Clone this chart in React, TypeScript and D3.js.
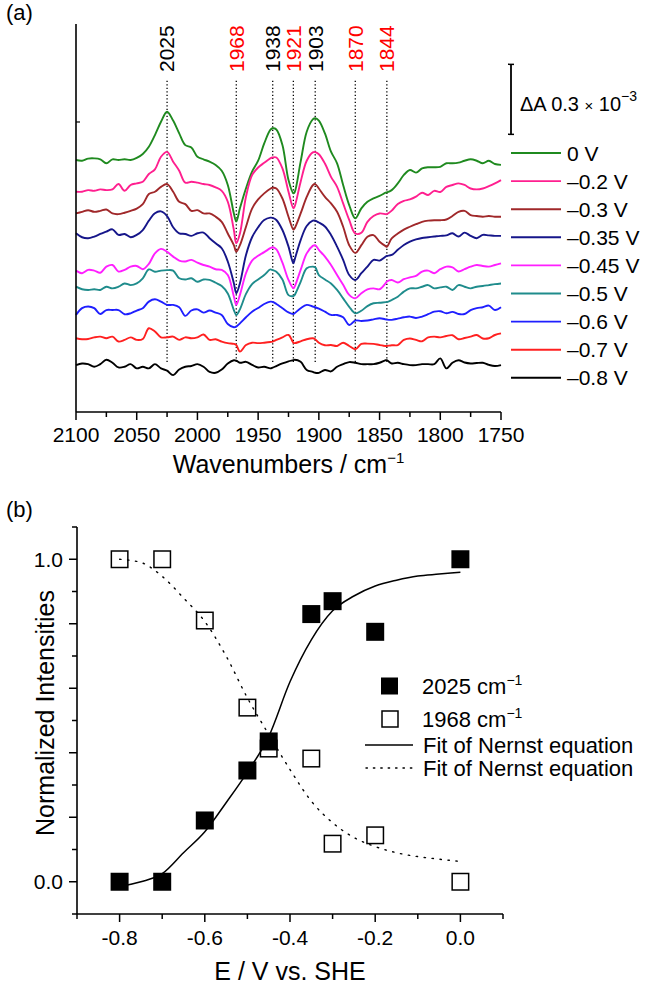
import React from 'react';
import * as d3 from 'd3';

// ---- (a) IR difference spectra ----
const wavenumbers = [
  2100, 2095, 2090, 2085, 2080, 2075, 2070, 2065, 2060, 2055, 2050, 2045, 2040, 2035, 2030, 2025,
  2020, 2015, 2010, 2005, 2000, 1995, 1990, 1985, 1980, 1975, 1970, 1968, 1965, 1960, 1955, 1950,
  1945, 1940, 1938, 1935, 1930, 1925, 1921, 1920, 1915, 1910, 1905, 1903, 1900, 1895, 1890, 1885,
  1880, 1875, 1870, 1865, 1860, 1855, 1850, 1845, 1844, 1840, 1835, 1830, 1825, 1820, 1815, 1810,
  1805, 1800, 1795, 1790, 1785, 1780, 1775, 1770, 1765, 1760, 1755, 1750,
];

const potentials = ['0 V', '\u20130.2 V', '\u20130.3 V', '\u20130.35 V', '\u20130.45 V', '\u20130.5 V', '\u20130.6 V', '\u20130.7 V', '\u20130.8 V'];
const traceColors = ['#1f8a1f', '#ff1f8f', '#a0282a', '#16168a', '#ff1fff', '#1f8c8c', '#1f1fff', '#ff2020', '#000000'];
// stacking offsets, dA x 10^-4
const traceOffsets = [10.8, 9.44, 8.51, 7.66, 6.06, 5.37, 4.16, 3.16, 2.01];

const spec0 = [
  0, -0.03, 0.06, 0.07, 0.03, -0.14, 0.03, 0, 0.03, 0, 0.09, 0.26, 0.57, 1.07, 1.64, 2.07,
  1.69, 1.14, 0.64, 0.54, 0.14, 0.03, -0.07, -0.21, -0.46, -1.07, -2.29, -2.64, -2.07, -1.21, -0.5, -0.03,
  0.71, 1.29, 1.36, 1.31, 0.64, -0.86, -1.43, -1.39, -0.07, 1.21, 1.74, 1.79, 1.69, 1.14, 0.36, -0.14,
  -1.07, -1.93, -2.5, -2.07, -1.79, -1.64, -1.54, -1.4, -1.39, -1.29, -1.0, -0.64, -0.43, -0.54, -0.36, -0.31,
  -0.31, -0.29, -0.14, -0.14, -0.11, -0.03, 0.03, -0.03, -0.14, -0.03, -0.17, -0.21,
];
const spec02 = [
  0, 0, 0.07, 0.04, 0.1, 0.07, 0.1, 0.33, 0.04, 0.29, 0.36, 0.43, 0.76, 0.96, 1.5, 1.71,
  1.29, 0.9, 0.39, 0.43, 0.39, 0.33, 0.29, 0.19, 0.04, -0.43, -1.64, -2.21, -1.79, -0.21, 0.71, 1.04,
  1.24, 1.43, 1.47, 1.47, 1.0, 0, -0.71, -0.64, 0.43, 1.33, 1.69, 1.7, 1.61, 1.21, 0.64, 0.21,
  -0.5, -1.21, -1.79, -1.76, -1.29, -1.04, -0.93, -0.96, -0.96, -0.81, -0.53, -0.39, -0.33, -0.21, -0.04, -0.14,
  0.04, -0.01, 0.21, 0.29, 0.36, 0.29, 0.14, 0.1, 0.14, 0.24, 0.36, 0.5,
];
const spec03 = [
  0, 0.07, 0.14, 0.07, 0.11, 0.17, 0, -0.03, 0.03, 0.11, 0.21, 0.4, 0.83, 0.93, 1.14, 1.26,
  0.93, 0.5, 0.4, 0.11, 0.14, 0, 0, -0.14, -0.36, -0.86, -1.36, -1.64, -1.36, -0.57, 0.21, 0.6,
  0.86, 1.06, 1.1, 1.07, 0.64, -0.14, -0.69, -0.64, 0, 0.71, 1.21, 1.26, 1.07, 0.71, 0.43, 0.07,
  -0.57, -1.36, -1.69, -1.36, -1.0, -0.93, -1.21, -1.4, -1.43, -1.07, -0.86, -0.69, -0.57, -0.46, -0.36, -0.31,
  -0.29, -0.29, -0.26, -0.11, 0.07, 0.11, -0.07, -0.11, -0.14, -0.11, -0.14, -0.14,
];
const spec035 = [
  0, -0.17, -0.21, -0.14, -0.03, 0.07, 0.17, -0.07, -0.03, -0.17, -0.07, 0.14, 0.54, 0.86, 0.94, 0.74,
  0.26, 0, -0.03, -0.11, 0, 0.03, -0.21, -0.43, -0.64, -1.21, -2.14, -2.57, -2.14, -0.93, -0.17, 0.26,
  0.57, 0.67, 0.66, 0.57, 0.14, -0.57, -1.29, -1.14, -0.29, 0.31, 0.54, 0.54, 0.46, 0.29, -0.07, -0.57,
  -1.14, -1.79, -2.0, -1.71, -1.43, -1.14, -1.17, -1.0, -0.97, -0.93, -0.71, -0.5, -0.36, -0.26, -0.2, -0.17,
  -0.14, -0.11, -0.09, 0, -0.14, 0.03, -0.11, -0.21, -0.07, -0.09, -0.11, -0.11,
];
const spec045 = [
  0, -0.11, 0.03, 0, -0.09, 0.17, 0.24, -0.04, 0.03, 0.17, 0.2, 0.06, 0.29, 0.74, 0.93, 0.81,
  0.6, 0.43, 0.39, 0.46, 0.34, 0.24, 0.17, 0.06, 0.03, -0.19, -1.11, -1.47, -1.04, -0.11, 0.43, 0.64,
  0.79, 0.96, 1.0, 0.91, 0.34, -0.4, -0.76, -0.69, 0.03, 0.74, 1.06, 1.09, 0.89, 0.6, 0.24, -0.19,
  -0.61, -1.04, -1.19, -0.97, -0.8, -0.76, -0.8, -0.54, -0.47, -0.4, -0.51, -0.37, -0.29, -0.23, -0.04, 0,
  -0.11, 0.06, 0.17, 0.14, -0.04, 0.06, 0.17, 0.24, 0.2, 0.17, 0.24, 0.31,
];
const spec05 = [
  0, -0.11, -0.14, -0.11, -0.14, 0, -0.07, 0, 0.14, 0.07, 0.14, 0.36, 0.74, 0.64, 0.69, 0.71,
  0.69, 0.36, 0.31, 0.36, 0.21, 0.31, 0.29, 0.17, 0.03, -0.29, -1.0, -1.21, -0.97, -0.31, 0.11, 0.31,
  0.5, 0.74, 0.71, 0.64, 0.31, -0.36, -0.4, -0.36, 0.21, 0.79, 0.86, 0.83, 0.5, 0.31, 0.14, -0.14,
  -0.5, -0.86, -1.14, -1.03, -0.83, -0.71, -0.69, -0.66, -0.66, -0.57, -0.43, -0.21, -0.07, -0.07, 0, 0.07,
  -0.07, -0.03, 0, -0.14, 0.07, 0, -0.07, 0, 0.03, 0.07, 0.11, 0.14,
];
const spec06 = [
  0, 0.29, 0.36, 0.29, 0.04, 0.21, 0.21, 0.21, 0.03, 0.07, 0.19, 0.29, 0.57, 0.67, 0.57, 0.43,
  0.43, 0.33, -0.04, 0.19, 0.24, 0.1, 0.19, 0.1, 0, -0.39, -0.53, -0.5, -0.36, -0.1, 0.14, 0.3,
  0.47, 0.57, 0.56, 0.47, 0.29, 0.11, 0.04, 0.07, 0.29, 0.43, 0.36, 0.33, 0.27, 0.14, 0, 0,
  -0.1, -0.43, -0.24, -0.26, -0.24, -0.19, -0.14, -0.19, -0.2, -0.21, -0.16, -0.1, -0.07, -0.13, -0.07, 0.03,
  0.14, 0.16, 0.07, 0.13, 0.04, 0.04, 0.21, 0.29, 0.33, 0.4, 0.21, 0.33,
];
const spec07 = [
  0, -0.04, -0.03, 0.04, 0.07, 0, 0.07, -0.14, -0.07, 0.04, -0.07, -0.03, 0.43, 0.29, 0.04, 0.04,
  0.07, -0.07, 0.04, 0, 0.04, 0.16, -0.07, -0.04, -0.14, -0.21, -0.24, -0.29, -0.57, -0.29, -0.19, -0.21,
  -0.19, -0.16, -0.14, -0.07, 0.04, 0.14, -0.19, -0.21, -0.13, -0.04, 0, -0.04, -0.19, -0.3, -0.29, -0.33,
  -0.19, -0.33, -0.47, -0.24, -0.23, -0.24, -0.29, -0.33, -0.33, -0.3, -0.29, -0.07, -0.01, -0.07, -0.13, 0.04,
  0.07, 0.04, 0.1, 0.13, -0.04, 0.01, 0.07, 0.14, -0.01, 0, 0.14, 0.21,
];
const spec08 = [
  0, 0.07, 0.04, -0.07, 0.04, 0.23, 0.1, -0.1, -0.07, 0.04, -0.14, -0.07, -0.14, 0.04, -0.14, -0.24,
  -0.43, -0.19, -0.07, -0.04, 0.04, -0.07, -0.29, -0.33, -0.19, 0.07, 0.21, 0.19, 0.1, 0.14, 0.01, -0.1,
  -0.07, -0.14, -0.11, -0.04, 0.07, 0.16, 0.21, 0.23, 0.14, -0.21, -0.29, -0.33, -0.33, -0.21, -0.27, -0.07,
  0.04, 0.13, 0.1, 0.04, 0.04, 0.04, 0.1, 0.21, 0.21, 0.07, 0.1, 0.04, 0, 0, 0.04, 0.04,
  0.04, 0.29, -0.14, 0.1, 0.21, 0.11, 0.07, 0.09, 0.1, 0.01, -0.04, 0,
];
const spectra = [spec0, spec02, spec03, spec035, spec045, spec05, spec06, spec07, spec08];

const peakPositions = [2025, 1968, 1938, 1921, 1903, 1870, 1844];
const peakColors = ['#000', '#ff0000', '#000', '#ff0000', '#000', '#ff0000', '#ff0000'];
const wnTicks = [2100, 2050, 2000, 1950, 1900, 1850, 1800, 1750];
const wnMinorTicks = [2075, 2025, 1975, 1925, 1875, 1825, 1775];

// ---- (b) normalized intensities ----
const potentialE = [-0.8, -0.7, -0.6, -0.5, -0.45, -0.35, -0.3, -0.2, 0.0];
const intensity2025 = [0.0, 0.0, 0.19, 0.345, 0.435, 0.83, 0.87, 0.775, 1.0];
const intensity1968 = [1.0, 1.0, 0.81, 0.54, 0.413, 0.382, 0.118, 0.144, 0.0];
const fitE = [-0.8, -0.75, -0.7, -0.65, -0.6, -0.55, -0.5, -0.45, -0.4, -0.35, -0.3, -0.25, -0.2, -0.15, -0.1, -0.05, 0.0];
const fit2025 = [-0.015, 0.0, 0.025, 0.09, 0.155, 0.245, 0.34, 0.45, 0.62, 0.75, 0.84, 0.886, 0.917, 0.935, 0.948, 0.954, 0.96];
const fit1968 = [1.0, 0.99, 0.947, 0.88, 0.807, 0.7, 0.57, 0.457, 0.348, 0.25, 0.183, 0.137, 0.109, 0.09, 0.078, 0.07, 0.063];
const eTicks = [-0.9, -0.8, -0.7, -0.6, -0.5, -0.4, -0.3, -0.2, -0.1, 0.0, 0.1];
const eLabels = [-0.8, -0.6, -0.4, -0.2, 0.0];
const iTicks = [-0.1, 0.0, 0.1, 0.2, 0.3, 0.4, 0.5, 0.6, 0.7, 0.8, 0.9, 1.0, 1.1];
const iLabels = [0.0, 1.0];

const FONT = 'Liberation Sans, Arial, Helvetica, sans-serif';

const fmt = (v: number) => {
  const s = v.toFixed(1);
  return s === '-0.0' ? '0.0' : s;
};

const App = () => {
  // panel (a)
  const ax = d3.scaleLinear().domain([2100, 1750]).range([76, 501]);
  const ay = d3.scaleLinear().domain([0, 16.63]).range([412, 24]);
  const traceLine = d3
    .line<number>()
    .x((_, i) => ax(wavenumbers[i]))
    .y((d) => d)
    .curve(d3.curveCatmullRom.alpha(0.5));

  const guideTop = 14.2;
  const guideBottom = 2.05;
  const barBase = 11.9;
  const barSize = 3; // 0.3 x 10^-3

  // panel (b)
  const bx = d3.scaleLinear().domain([-0.9, 0.1]).range([77, 503]);
  const by = d3.scaleLinear().domain([-0.1, 1.1]).range([914, 527]);
  const fitLine = (vals: number[]) =>
    d3
      .line<number>()
      .x((_, i) => bx(fitE[i]))
      .y((d) => by(d))
      .curve(d3.curveMonotoneX)(vals) || '';

  const legendY0 = 153;
  const legendStep = 28.1;
  const m = 18;

  return (
    <svg
      width={647}
      height={984}
      style={{ position: 'absolute', left: 0, top: 0, background: '#fff' }}
      fontFamily={FONT}
    >
      <rect x={0} y={0} width={647} height={984} fill="#fff" />
      <text x={6} y={20} fontSize={22}>(a)</text>
      <text x={6} y={517} fontSize={22}>(b)</text>

      {/* ----- panel (a) ----- */}
      {peakPositions.map((p) => (
        <line
          key={'g' + p}
          x1={ax(p)}
          x2={ax(p)}
          y1={ay(guideTop)}
          y2={ay(guideBottom)}
          stroke="#000"
          strokeWidth={1.3}
          strokeDasharray="1.3,2.2"
        />
      ))}
      {peakPositions.map((p, i) => (
        <text
          key={'pl' + p}
          transform={`translate(${ax(p)},72) rotate(-90)`}
          dy="0.35em"
          fontSize={21}
          fill={peakColors[i]}
        >
          {p}
        </text>
      ))}

      {spectra.map((s, k) => (
        <path
          key={'s' + k}
          d={traceLine(s.map((v) => ay(traceOffsets[k] + v))) || ''}
          fill="none"
          stroke={traceColors[k]}
          strokeWidth={1.9}
          strokeLinejoin="round"
        />
      ))}

      {/* axes (a) */}
      <line x1={ax(2100)} x2={ax(2100)} y1={ay(16.63)} y2={ay(0)} stroke="#000" strokeWidth={1.6} />
      <line x1={ax(2100)} x2={ax(2100) + 4} y1={ay(12.43)} y2={ay(12.43)} stroke="#000" strokeWidth={1.2} />
      <line x1={ax(2100)} x2={ax(1750)} y1={ay(0)} y2={ay(0)} stroke="#000" strokeWidth={1.6} />
      {wnTicks.map((t) => (
        <g key={'t' + t}>
          <line x1={ax(t)} x2={ax(t)} y1={ay(0)} y2={ay(0) + 8} stroke="#000" strokeWidth={1.5} />
          <text x={ax(t)} y={442} fontSize={21} textAnchor="middle">{t}</text>
        </g>
      ))}
      {wnMinorTicks.map((t) => (
        <line key={'mt' + t} x1={ax(t)} x2={ax(t)} y1={ay(0)} y2={ay(0) + 5} stroke="#000" strokeWidth={1.5} />
      ))}
      <text x={(ax(2100) + ax(1750)) / 2} y={473} fontSize={25} textAnchor="middle">
        Wavenumbers / cm
        <tspan dy={-10} fontSize={15}>{'\u22121'}</tspan>
      </text>

      {/* scale bar */}
      <line x1={511} x2={511} y1={ay(barBase)} y2={ay(barBase + barSize)} stroke="#000" strokeWidth={1.8} />
      <line x1={508} x2={514} y1={ay(barBase + barSize)} y2={ay(barBase + barSize)} stroke="#000" strokeWidth={1.5} />
      <line x1={508} x2={514} y1={ay(barBase)} y2={ay(barBase)} stroke="#000" strokeWidth={1.5} />
      <text x={520} y={111} fontSize={20}>
        {'\u0394A 0.3 '}
        <tspan fontSize={15}>{'\u00d7'}</tspan>
        {' 10'}
        <tspan dy={-10} fontSize={14}>{'\u22123'}</tspan>
      </text>

      {/* legend (a) */}
      {potentials.map((p, k) => (
        <g key={'lg' + k}>
          <line
            x1={511}
            x2={561}
            y1={legendY0 + k * legendStep}
            y2={legendY0 + k * legendStep}
            stroke={traceColors[k]}
            strokeWidth={1.9}
          />
          <text x={567} y={legendY0 + k * legendStep} dy="0.36em" fontSize={21}>
            {p}
          </text>
        </g>
      ))}

      {/* ----- panel (b) ----- */}
      <path d={fitLine(fit1968)} fill="none" stroke="#000" strokeWidth={1.4} strokeDasharray="1.4,6.6" strokeLinecap="round" />
      <path d={fitLine(fit2025)} fill="none" stroke="#000" strokeWidth={1.5} />
      {potentialE.map((e, i) => (
        <rect
          key={'o' + i}
          x={bx(e) - m / 2 + 0.75}
          y={by(intensity1968[i]) - m / 2 + 0.75}
          width={m - 1.5}
          height={m - 1.5}
          fill="none"
          stroke="#000"
          strokeWidth={1.5}
        />
      ))}
      {potentialE.map((e, i) => (
        <rect key={'f' + i} x={bx(e) - m / 2} y={by(intensity2025[i]) - m / 2} width={m} height={m} fill="#000" />
      ))}

      {/* axes (b) */}
      <line x1={bx(-0.9)} x2={bx(-0.9)} y1={by(1.1)} y2={by(-0.1)} stroke="#000" strokeWidth={1.6} />
      <line x1={bx(-0.9)} x2={bx(0.1)} y1={by(-0.1)} y2={by(-0.1)} stroke="#000" strokeWidth={1.6} />
      {eTicks.map((t) => {
        const major = eLabels.some((l) => Math.abs(l - t) < 1e-6);
        return (
          <line key={'et' + t} x1={bx(t)} x2={bx(t)} y1={by(-0.1)} y2={by(-0.1) + (major ? 8 : 5)} stroke="#000" strokeWidth={1.5} />
        );
      })}
      {eLabels.map((t) => (
        <text key={'el' + t} x={bx(t)} y={945} fontSize={21} textAnchor="middle">{fmt(t)}</text>
      ))}
      {iTicks.map((t, i) => (
        <line
          key={'it' + t}
          x1={bx(-0.9) - (i % 2 === 1 ? 8 : 5)}
          x2={bx(-0.9)}
          y1={by(t)}
          y2={by(t)}
          stroke="#000"
          strokeWidth={1.5}
        />
      ))}
      {iLabels.map((t) => (
        <text key={'il' + t} x={63} y={by(t)} dy="0.36em" fontSize={21} textAnchor="end">{fmt(t)}</text>
      ))}
      <text x={(bx(-0.9) + bx(0.1)) / 2} y={980} fontSize={25} textAnchor="middle">E / V vs. SHE</text>
      <text transform={`translate(45,713) rotate(-90)`} dy="0.35em" fontSize={25} textAnchor="middle">
        Normalized Intensities
      </text>

      {/* legend (b) */}
      <rect x={381} y={677.5} width={17} height={17} fill="#000" />
      <text x={422} y={686} dy="0.36em" fontSize={22}>
        2025 cm<tspan dy={-9} fontSize={14}>{'\u22121'}</tspan>
      </text>
      <rect x={382} y={711} width={16} height={16} fill="none" stroke="#000" strokeWidth={1.5} />
      <text x={422} y={719} dy="0.36em" fontSize={22}>
        1968 cm<tspan dy={-9} fontSize={14}>{'\u22121'}</tspan>
      </text>
      <line x1={365} x2={413} y1={745} y2={745} stroke="#000" strokeWidth={1.5} />
      <text x={423} y={745} dy="0.36em" fontSize={22}>Fit of Nernst equation</text>
      <line x1={366} x2={413} y1={768} y2={768} stroke="#000" strokeWidth={1.4} strokeDasharray="1.4,6" strokeLinecap="round" />
      <text x={423} y={768} dy="0.36em" fontSize={22}>Fit of Nernst equation</text>
    </svg>
  );
};

export default App;
